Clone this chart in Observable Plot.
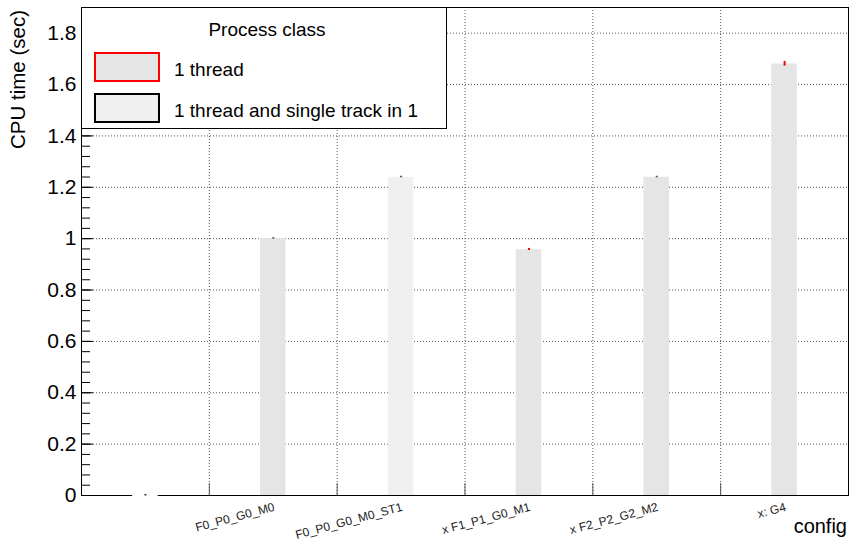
<!DOCTYPE html>
<html><head><meta charset="utf-8">
<script src="https://cdn.jsdelivr.net/npm/d3@7"></script>
<script src="https://cdn.jsdelivr.net/npm/@observablehq/plot@0.6"></script>
<style>body{margin:0;background:#fff}</style>
</head><body><div id="chart"></div>
<script>
// ---- data ----
const configs = ["", "F0_P0_G0_M0", "F0_P0_G0_M0_ST1", "x F1_P1_G0_M1", "x F2_P2_G2_M2", "x: G4"];
const cpuTime = [0, 1.0, 1.239, 0.957, 1.239, 1.680];
const cpuErr = [0.002, 0.002, 0.002, 0.003, 0.002, 0.008];
const processClass = ["", "1 thread", "1 thread and single track in 1", "1 thread", "1 thread", "1 thread"];
const classNames = ["1 thread", "1 thread and single track in 1"];
const yTickLabels = [0, 0.2, 0.4, 0.6, 0.8, 1, 1.2, 1.4, 1.6, 1.8];
const legendTitle = "Process class";
const yTitle = "CPU time (sec)";
const xTitle = "config";

// ---- styles ----
const classFill = ["#e5e5e5", "#f0f0f0"];
const classStroke = ["#ff0000", "#000000"];
const errColor = ["#333", "#555", "#555", "#e00", "#555", "#e00"];

const W = 849, H = 545, ML = 81, MR = 1, MT = 7, MB = 50;
const frameW = W - ML - MR, frameH = H - MT - MB;
const font = "'Liberation Sans', Arial, Helvetica, sans-serif";

const data = configs.map((c, i) => ({i, c, v: cpuTime[i], e: cpuErr[i], k: processClass[i]}));
const edges = d3.range(1, configs.length);
const yMinor = d3.range(0, 1.9, 0.04);

const plot = Plot.plot({
  width: W, height: H,
  marginLeft: ML, marginRight: MR, marginTop: MT, marginBottom: MB,
  style: {fontFamily: font, background: "#fff", color: "#000", overflow: "visible"},
  x: {domain: [0, configs.length], axis: null},
  y: {domain: [0, 1.9]},
  color: {domain: classNames, range: classFill},
  marks: [
    Plot.ruleY(yTickLabels.slice(1), {stroke: "#555", strokeDasharray: "1,2"}),
    Plot.ruleX(edges, {stroke: "#555", strokeDasharray: "1,2"}),
    Plot.rectY(data.filter(d => d.k), {x1: d => d.i + 0.4, x2: d => d.i + 0.6, y1: 0, y2: "v", fill: "k"}),
    Plot.frame({stroke: "#000"}),
    Plot.tickY(yMinor, {y: d => d, insetRight: frameW - 9, stroke: "#000"}),
    Plot.tickY(yTickLabels, {y: d => d, insetRight: frameW - 12, stroke: "#000"}),
    Plot.tickX(edges, {x: d => d, insetTop: frameH - 12, stroke: "#555"}),
    Plot.rectY(data.filter(d => !d.k), {x1: d => d.i + 0.4, x2: d => d.i + 0.6, y1: d => d.v - 0.006, y2: d => d.v + 0.004, fill: "#fff", clip: false}),
    Plot.ruleX(data, {x: d => d.i + 0.5, y1: d => d.v - d.e, y2: d => d.v + d.e + 0.002, stroke: (d) => errColor[d.i], strokeWidth: 2}),
    Plot.axisY(yTickLabels, {tickSize: 0, tickPadding: 5, fontSize: 21, tickFormat: d => String(d), label: null}),
    Plot.text(data, {x: d => d.i + 0.5, y: 0, text: "c", rotate: -15, textAnchor: "end", lineAnchor: "bottom", dy: 15, dx: 2, fontSize: 12, fill: "#222"})
  ]
});

const svg = d3.select(plot);
// y title
svg.append("text").attr("transform", "translate(25,10) rotate(-90)")
  .attr("text-anchor", "end").attr("font-size", 20.5).attr("font-family", font).text(yTitle);
// x title
svg.append("text").attr("x", 847).attr("y", 533)
  .attr("text-anchor", "end").attr("font-size", 20).attr("font-family", font).text(xTitle);
// legend
const lg = svg.append("g").attr("font-family", font).attr("text-anchor", "start");
lg.append("rect").attr("x", 81.5).attr("y", 7.5).attr("width", 365).attr("height", 121)
  .attr("fill", "#fff").attr("stroke", "#000");
lg.append("text").attr("x", 267).attr("y", 36).attr("text-anchor", "middle")
  .attr("font-size", 19).text(legendTitle);
classNames.forEach((name, j) => {
  const y0 = 53 + j * 41;
  lg.append("rect").attr("x", 95).attr("y", y0).attr("width", 64).attr("height", 28)
    .attr("fill", classFill[j]).attr("stroke", classStroke[j]).attr("stroke-width", 2);
  lg.append("text").attr("x", 174).attr("y", y0 + 23).attr("text-anchor", "start")
    .attr("font-size", 19).text(name);
});

document.getElementById("chart").appendChild(plot);
</script>
</body></html>
